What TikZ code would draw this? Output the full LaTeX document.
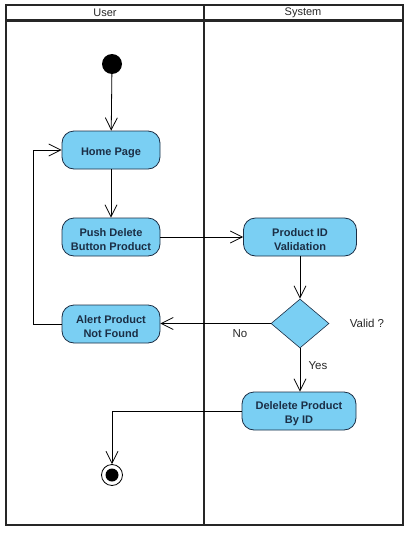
\documentclass[tikz,border=0pt]{standalone}
\usepackage{fontspec}
\setmainfont{Liberation Sans}
\usetikzlibrary{arrows.meta,shapes.geometric}
\definecolor{actfill}{HTML}{7ACFF3}
\definecolor{actdraw}{HTML}{1B2E45}
\newcommand\topstrut{\rule{0pt}{14pt}}
\begin{document}
\begin{tikzpicture}[x=1pt,y=-1pt,
  lane/.style={draw=black!85,line width=2.4pt},
  lanetitle/.style={font=\fontsize{11}{13}\selectfont,text=black!85},
  act/.style={rectangle,rounded corners=12pt,draw=actdraw,fill=actfill,line width=0.8pt,
    minimum width=98pt,minimum height=38pt,inner sep=0pt,align=center,text=actdraw,
    font=\bfseries\fontsize{11}{14}\selectfont},
  dec/.style={diamond,draw=actdraw,fill=actfill,line width=0.6pt,minimum width=58pt,
    minimum height=49pt,inner sep=0pt},
  initial/.style={circle,fill=black,minimum size=20pt,inner sep=0pt},
  final/.style={circle,draw=black,line width=0.8pt,fill=white,minimum size=21pt,inner sep=0pt,
    path picture={\fill[black] (path picture bounding box.center) circle (6.5pt);}},
  flow/.style={draw=black,line width=0.8pt,-{Straight Barb[length=12pt,width=12pt,line width=0.8pt]}},
  lbl/.style={font=\fontsize{11.5}{13}\selectfont,text=black!85}
]
\useasboundingbox (0,0) rectangle (410,533);
% swimlanes
\draw[lane] (6,5) rectangle (403,525);
\draw[lane] (6,20.5) -- (403,20.5);
\draw[lane] (204,5) -- (204,525);
\node[lanetitle] (tuser) at (105,13) {User};
\node[lanetitle] (tsys) at (303,13) {System};
% nodes
\node[initial] (start) at (112,64) {};
\node[act] (home) at (111,150) {\topstrut Home Page};
\node[act] (push) at (111,237) {\topstrut Push Delete\\Button Product};
\node[act,minimum width=113pt] (valid) at (300,237) {\topstrut Product ID\\Validation};
\node[dec] (dec) at (300,323.5) {};
\node[act] (alert) at (111,324) {\topstrut Alert Product\\Not Found};
\node[act,minimum width=114pt] (del) at (299,411) {\topstrut Delelete Product\\By ID};
\node[final] (end) at (112,475) {};
\node[lbl] (lvalid) at (367,323) {Valid ?};
\node[lbl] (lno) at (240,334) {No};
\node[lbl] (lyes) at (318,366) {Yes};
\coordinate (loopc) at (33,324);
\coordinate (endc) at (112,411);
% flows
\draw[flow] (start) -- (home);
\draw[flow] (home) -- (push);
\draw[flow] (push.east) -- (valid.west);
\draw[flow] (valid.south -| dec.north) -- (dec.north);
\draw[flow] (dec.west) -- (dec.west -| alert.east);
\draw[flow] (dec.south) -- (dec.south |- del.north);
\draw[flow] (alert.west) -- (loopc) |- (home.west);
\draw[flow] (del.west) -- (endc) -- (end.north);
\end{tikzpicture}
\end{document}
